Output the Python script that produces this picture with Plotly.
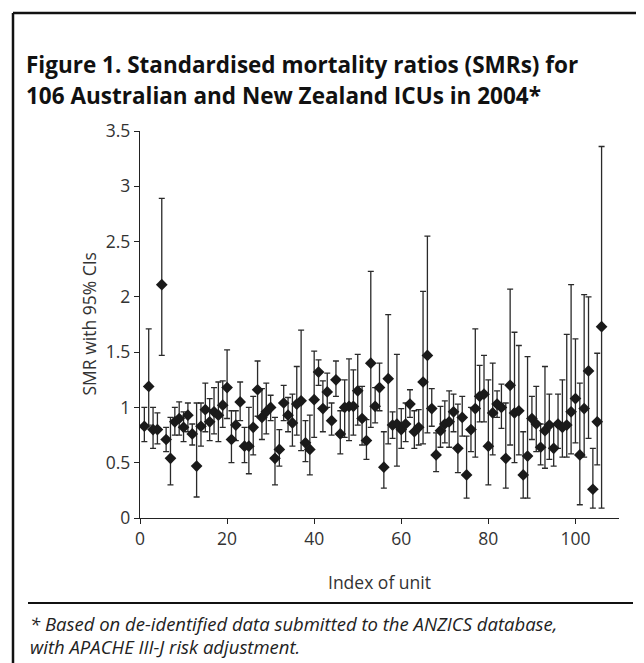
import plotly.graph_objects as go

units = list(range(1, 107))
smr = [0.83, 1.19, 0.80, 0.80, 2.11, 0.71, 0.54, 0.87, 0.90, 0.82,
       0.93, 0.76, 0.47, 0.83, 0.98, 0.87, 0.96, 0.93, 1.02, 1.18,
       0.71, 0.84, 1.05, 0.65, 0.65, 0.82, 1.16, 0.91, 0.96, 1.00,
       0.54, 0.62, 1.04, 0.93, 0.86, 1.03, 1.06, 0.68, 0.62, 1.07,
       1.32, 0.99, 1.14, 0.88, 1.25, 0.76, 1.00, 1.01, 1.01, 1.15,
       0.90, 0.70, 1.40, 1.01, 1.18, 0.46, 1.26, 0.84, 0.85, 0.80,
       0.85, 1.03, 0.78, 0.82, 1.23, 1.47, 0.99, 0.57, 0.79, 0.85,
       0.87, 0.96, 0.63, 0.91, 0.39, 0.80, 0.99, 1.10, 1.12, 0.65,
       0.95, 1.03, 1.00, 0.54, 1.20, 0.95, 0.97, 0.39, 0.56, 0.90,
       0.85, 0.64, 0.79, 0.84, 0.63, 0.85, 0.82, 0.84, 0.96, 1.08,
       0.57, 0.99, 1.33, 0.26, 0.87, 1.73]
ci_low = [0.69, 0.84, 0.63, 0.67, 1.47, 0.60, 0.30, 0.75, 0.75, 0.69,
          0.78, 0.66, 0.19, 0.65, 0.78, 0.70, 0.76, 0.69, 0.82, 0.90,
          0.50, 0.70, 0.88, 0.50, 0.40, 0.57, 0.92, 0.71, 0.76, 0.88,
          0.30, 0.47, 0.88, 0.78, 0.65, 0.75, 0.61, 0.51, 0.39, 0.73,
          1.20, 0.78, 1.00, 0.75, 1.10, 0.58, 0.73, 0.70, 0.75, 0.84,
          0.66, 0.53, 0.82, 0.86, 0.97, 0.27, 0.67, 0.72, 0.47, 0.63,
          0.69, 0.91, 0.63, 0.66, 0.67, 0.77, 0.83, 0.42, 0.64, 0.68,
          0.64, 0.78, 0.41, 0.74, 0.18, 0.60, 0.55, 0.87, 0.87, 0.30,
          0.57, 0.91, 0.81, 0.27, 0.66, 0.50, 0.57, 0.18, 0.18, 0.71,
          0.60, 0.48, 0.45, 0.53, 0.47, 0.63, 0.55, 0.55, 0.58, 0.68,
          0.12, 0.55, 0.72, 0.09, 0.48, 0.09]
ci_high = [1.00, 1.71, 1.00, 0.95, 2.89, 0.82, 0.91, 1.00, 1.05, 0.96,
           1.04, 0.85, 1.04, 1.04, 1.22, 1.08, 1.18, 1.23, 1.24, 1.52,
           0.97, 0.97, 1.23, 0.82, 1.00, 1.10, 1.42, 1.17, 1.22, 1.11,
           0.91, 0.80, 1.20, 1.09, 1.12, 1.37, 1.70, 0.88, 0.93, 1.51,
           1.43, 1.24, 1.31, 1.04, 1.42, 0.97, 1.25, 1.44, 1.34, 1.48,
           1.19, 0.89, 2.23, 1.18, 1.40, 0.78, 1.84, 0.96, 1.48, 0.99,
           1.04, 1.16, 0.97, 0.98, 2.05, 2.55, 1.17, 0.77, 1.01, 1.06,
           1.15, 1.12, 1.03, 1.10, 0.74, 1.00, 1.71, 1.38, 1.47, 1.25,
           1.40, 1.15, 1.21, 1.04, 2.07, 1.68, 1.56, 0.78, 1.46, 1.10,
           1.19, 0.85, 1.37, 1.12, 0.85, 1.12, 1.25, 1.66, 2.11, 1.62,
           1.22, 2.02, 2.00, 0.63, 1.49, 3.36]
x_ticks = [0, 20, 40, 60, 80, 100]
y_ticks = [0, 0.5, 1, 1.5, 2, 2.5, 3, 3.5]
y_tick_text = ["0", "0.5", "1", "1.5", "2", "2.5", "3", "3.5"]

title_lines = ["Figure 1. Standardised mortality ratios (SMRs) for",
               "106 Australian and New Zealand ICUs in 2004*"]
foot_lines = ["* Based on de-identified data submitted to the ANZICS database,",
              "with APACHE III-J risk adjustment."]

W, H = 644, 663
L, R, T, B = 132, 33, 123, 153
PW, PH = W - L - R, H - T - B


def px(x):
    return (x - L) / PW


def py(y):
    return (H - B - y) / PH


err_plus = [h - s for h, s in zip(ci_high, smr)]
err_minus = [s - l for s, l in zip(smr, ci_low)]

fig = go.Figure()
fig.add_trace(go.Scatter(
    x=units, y=smr, mode="markers",
    marker=dict(symbol="diamond", size=9, color="#1a1a1a"),
    error_y=dict(type="data", symmetric=False, array=err_plus,
                 arrayminus=err_minus, color="#2a2a2a", thickness=1.3, width=3),
    showlegend=False, hoverinfo="x+y"))

axis_font = dict(family="Open Sans, Liberation Sans, sans-serif", size=17.5, color="#333333")

fig.update_layout(
    width=W, height=H,
    margin=dict(l=L, r=R, t=T, b=B),
    paper_bgcolor="white", plot_bgcolor="white",
    font=axis_font,
    xaxis=dict(range=[0, 110], tickvals=x_ticks, showgrid=False, zeroline=False,
               showline=True, linecolor="#222", linewidth=1.3,
               ticks="outside", ticklen=5, tickcolor="#222", tickfont=axis_font),
    yaxis=dict(range=[0, 3.5], tickvals=y_ticks, ticktext=y_tick_text, showgrid=False,
               zeroline=False, showline=True, linecolor="#222", linewidth=1.3,
               ticks="outside", ticklen=5, tickcolor="#222", tickfont=axis_font),
)

title_font = dict(family="Open Sans, Liberation Sans, sans-serif", size=22.5, color="#111111")
for line, yc in zip(title_lines, [57, 88]):
    fig.add_annotation(x=px(16), y=py(yc), xref="paper", yref="paper",
                       text="<b>" + line + "</b>", showarrow=False,
                       xanchor="left", yanchor="middle", font=title_font)

foot_font = dict(family="Open Sans, Liberation Sans, sans-serif", size=18.5, color="#222222")
for line, yc in zip(foot_lines, [615, 638]):
    fig.add_annotation(x=px(20), y=py(yc), xref="paper", yref="paper",
                       text="<i>" + line + "</i>", showarrow=False,
                       xanchor="left", yanchor="middle", font=foot_font)

fig.add_annotation(x=0.5, y=py(574), xref="paper", yref="paper",
                   text="Index of unit", showarrow=False,
                   xanchor="center", yanchor="middle", font=axis_font)
fig.add_annotation(x=px(80), y=0.5, xref="paper", yref="paper",
                   text="SMR with 95% CIs", showarrow=False, textangle=-90,
                   xanchor="center", yanchor="middle", font=axis_font)

# frame (left, top, right) and footnote rule
frame = dict(color="#111111", width=2.5)
fig.add_shape(type="line", xref="paper", yref="paper",
              x0=px(5), x1=px(5), y0=py(5), y1=py(680), line=frame)
fig.add_shape(type="line", xref="paper", yref="paper",
              x0=px(5), x1=px(639), y0=py(5), y1=py(5), line=frame)
fig.add_shape(type="line", xref="paper", yref="paper",
              x0=px(639), x1=px(639), y0=py(5), y1=py(680), line=frame)
fig.add_shape(type="line", xref="paper", yref="paper",
              x0=px(20), x1=px(625), y0=py(595), y1=py(595),
              line=dict(color="#111111", width=2))

fig.write_html("out.html")
